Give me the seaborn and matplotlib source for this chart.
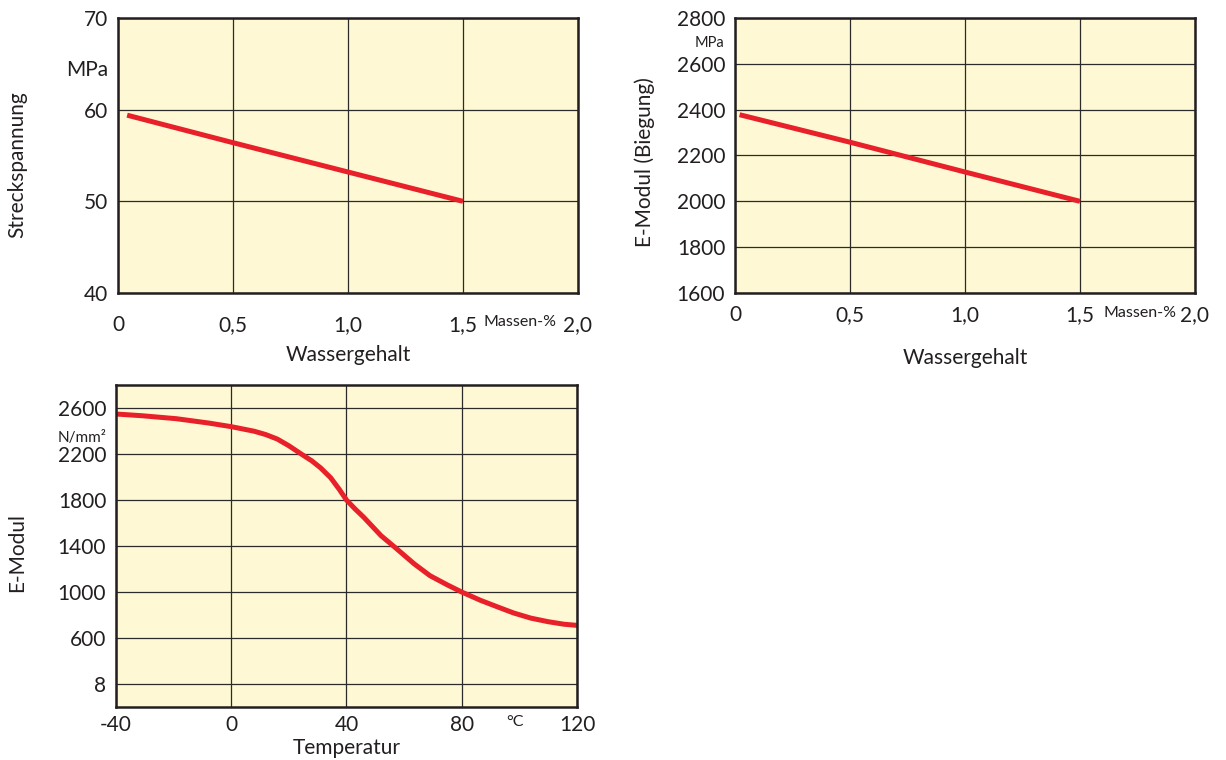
import pandas as pd
import numpy as np
import matplotlib.pyplot as plt
import seaborn as sns

# Streckspannung vs. Wassergehalt
wasser_a = [0.04, 0.5, 1.0, 1.5]
streck = [59.4, 56.4, 53.2, 50.0]

# E-Modul (Biegung) vs. Wassergehalt
wasser_b = [0.02, 0.5, 1.0, 1.5]
emod_b = [2378, 2258, 2128, 2000]

# E-Modul vs. Temperatur
temp = [-40, -31, -19, -8, 0, 8, 12, 16, 20, 24, 28, 31, 34.5, 37.5, 40, 43, 46, 52, 57,
        63.5, 69, 75, 80, 86.5, 92.5, 98, 104, 110, 115.5, 120]
emod_t = [2548, 2533, 2507, 2470, 2438, 2398, 2369, 2330, 2272, 2205, 2140, 2080, 1994, 1893, 1800, 1722, 1650, 1490, 1385,
          1245, 1142, 1062, 1000, 928, 870, 818, 773, 742, 720, 710]

x_ticks_w = [0, 0.5, 1.0, 1.5, 2.0]
x_labels_w = ["0", "0,5", "1,0", "1,5", "2,0"]
y_ticks_a = [40, 50, 60, 70]
y_ticks_b = [1600, 1800, 2000, 2200, 2400, 2600, 2800]
x_ticks_t = [-40, 0, 40, 80, 120]
x_labels_t = ["-40", "0", "40", "80", "120"]
y_ticks_t = [200, 600, 1000, 1400, 1800, 2200, 2600]
y_labels_t = ["8", "600", "1000", "1400", "1800", "2200", "2600"]

sns.set_style("white")
plt.rcParams['font.family'] = ['Lato', 'DejaVu Sans']

TXT = "#231f20"
BG = "#fef8d4"
RED = "#e8202a"
FS = 15

fig = plt.figure(figsize=(12.26, 7.6), dpi=100)
ax1 = fig.add_axes([0.0962, 0.6145, 0.3752, 0.3618])
ax2 = fig.add_axes([0.5995, 0.6145, 0.3752, 0.3618])
ax3 = fig.add_axes([0.0946, 0.0697, 0.376, 0.4237])


def style(ax, xpad):
    ax.set_facecolor(BG)
    for s in ax.spines.values():
        s.set_visible(True)
        s.set_color(TXT)
        s.set_linewidth(1.8)
    ax.grid(True, color="#2b2b2b", linewidth=0.9)
    ax.set_axisbelow(True)
    ax.tick_params(axis="x", length=0, pad=xpad, labelsize=FS, colors=TXT)
    ax.tick_params(axis="y", length=0, pad=7, labelsize=FS, colors=TXT)


df1 = pd.DataFrame({"w": wasser_a, "s": streck})
sns.lineplot(data=df1, x="w", y="s", ax=ax1, color=RED, linewidth=3.6,
             solid_capstyle="butt", estimator=None, sort=False)
ax1.set_xlim(0, 2.0)
ax1.set_ylim(40, 70)
ax1.set_xticks(x_ticks_w, x_labels_w)
ax1.set_yticks(y_ticks_a)
style(ax1, 16)
ax1.set_xlabel("Wassergehalt", fontsize=FS, color=TXT)
ax1.set_ylabel("Streckspannung", fontsize=FS, color=TXT)
ax1.xaxis.set_label_coords(0.5, -0.19)
ax1.yaxis.set_label_coords(-0.198, 0.465)
ax1.text(-0.022, 64.3, "MPa", transform=ax1.get_yaxis_transform(),
         ha="right", va="center", fontsize=FS, color=TXT)
ax1.text(1.75, -0.105, "Massen-%", transform=ax1.get_xaxis_transform(),
         ha="center", va="center", fontsize=11.5, color=TXT)

df2 = pd.DataFrame({"w": wasser_b, "e": emod_b})
sns.lineplot(data=df2, x="w", y="e", ax=ax2, color=RED, linewidth=3.6,
             solid_capstyle="butt", estimator=None, sort=False)
ax2.set_xlim(0, 2.0)
ax2.set_ylim(1600, 2800)
ax2.set_xticks(x_ticks_w, x_labels_w)
ax2.set_yticks(y_ticks_b)
style(ax2, 9)
ax2.set_xlabel("Wassergehalt", fontsize=FS, color=TXT)
ax2.set_ylabel("E-Modul (Biegung)", fontsize=FS, color=TXT)
ax2.xaxis.set_label_coords(0.5, -0.2)
ax2.yaxis.set_label_coords(-0.174, 0.476)
ax2.text(-0.022, 2692, "MPa", transform=ax2.get_yaxis_transform(),
         ha="right", va="center", fontsize=10.5, color=TXT)
ax2.text(1.76, -0.073, "Massen-%", transform=ax2.get_xaxis_transform(),
         ha="center", va="center", fontsize=11.5, color=TXT)

df3 = pd.DataFrame({"t": temp, "e": emod_t})
sns.lineplot(data=df3, x="t", y="e", ax=ax3, color=RED, linewidth=3.6,
             estimator=None, sort=False)
ax3.set_xlim(-40, 120)
ax3.set_ylim(0, 2800)
ax3.set_xticks(x_ticks_t, x_labels_t)
ax3.set_yticks(y_ticks_t, y_labels_t)
style(ax3, 6)
ax3.set_xlabel("Temperatur", fontsize=FS, color=TXT)
ax3.set_ylabel("E-Modul", fontsize=FS, color=TXT)
ax3.xaxis.set_label_coords(0.5, -0.095)
ax3.yaxis.set_label_coords(-0.193, 0.48)
ax3.text(-0.02, 2340, "N/mm²", transform=ax3.get_yaxis_transform(),
         ha="right", va="center", fontsize=11, color=TXT)
ax3.text(98.5, -0.047, "°C", transform=ax3.get_xaxis_transform(),
         ha="center", va="center", fontsize=11.5, color=TXT)

fig.savefig("out.png", dpi=100, facecolor="white")
